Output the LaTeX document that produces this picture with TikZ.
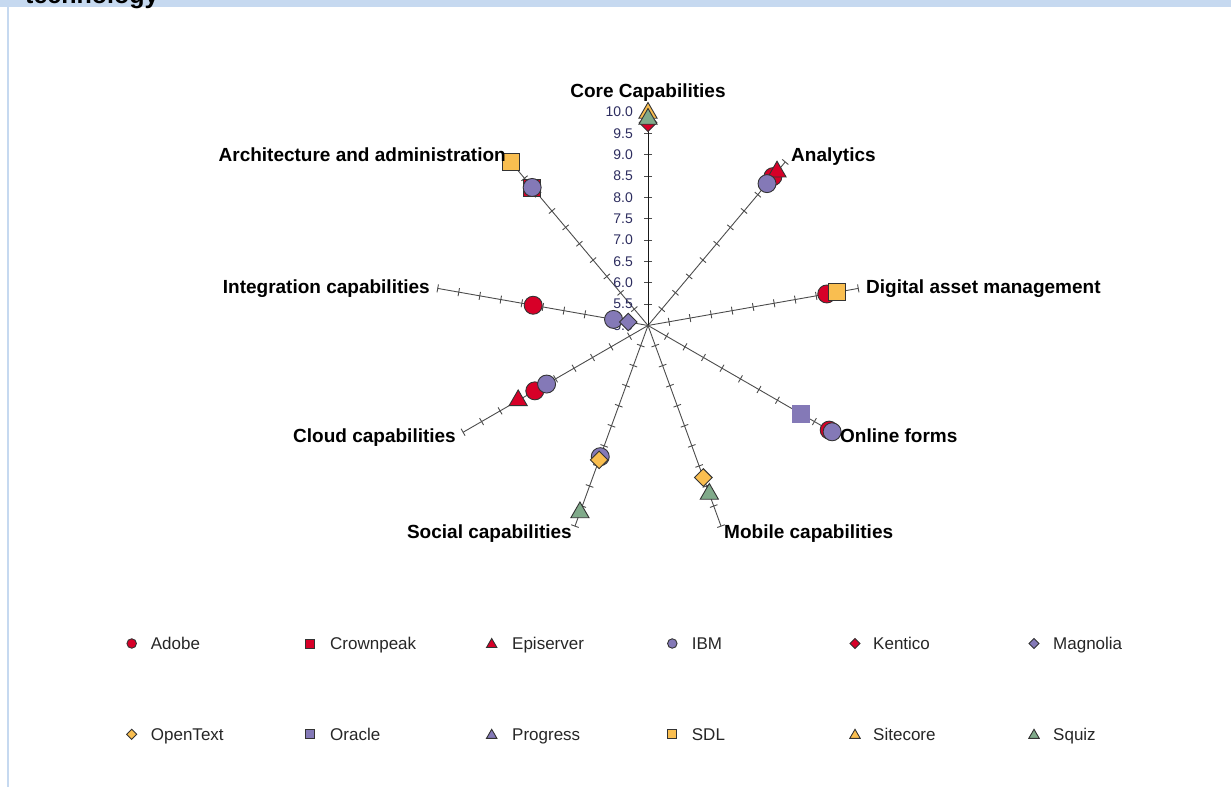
\documentclass[tikz,border=0pt]{standalone}
\usepackage{fontspec}
\setmainfont{Liberation Sans}
\usetikzlibrary{shapes.geometric}

\definecolor{adred}{RGB}{215,0,40}
\definecolor{ibmpur}{RGB}{132,121,183}
\definecolor{sdlorg}{RGB}{249,190,80}
\definecolor{sqzgrn}{RGB}{128,170,138}
\definecolor{bandblue}{RGB}{198,217,240}
\definecolor{ticktxt}{RGB}{45,45,95}

\tikzset{
  axisline/.style={draw=black!70, line width=0.9pt},
  mk/.style={draw=black!80, line width=0.9pt, inner sep=0pt},
  circ/.style={mk, circle, minimum size=18pt},
  sqr/.style={mk, rectangle, minimum size=17pt},
  tri/.style={mk, regular polygon, regular polygon sides=3, minimum size=21pt},
  dia/.style={mk, diamond, minimum size=18pt},
  axlabel/.style={font=\fontsize{19}{22}\selectfont\bfseries, inner sep=0pt},
  ticklbl/.style={font=\fontsize{14}{16}\selectfont, text=ticktxt, anchor=east, inner sep=0pt},
  legtxt/.style={font=\fontsize{17}{20}\selectfont, text=black!85, anchor=base west, inner sep=0pt}
}

\begin{document}
\begin{tikzpicture}[x=1pt, y=1pt]
\useasboundingbox (0,0) rectangle (1231,787);

% frame
\fill[bandblue] (0,780) rectangle (1231,787);
\fill[bandblue] (7,0) rectangle (9,787);
\node[anchor=base west, inner sep=0pt, font=\fontsize{25}{30}\selectfont\bfseries] (ttl) at (25,783) {technology};

\begin{scope}[shift={(648,461.5)}]
\coordinate (O) at (0,0);
% spokes with ticks every 0.5
\foreach \a/\n in {90/core,50/anly,10/dam,-30/form,-70/mob,-110/soc,-150/cld,170/intg,130/arch} {
  \coordinate (e\n) at (\a:213.5);
  \draw[axisline] (O) -- (e\n);
  \foreach \k in {1,...,10}
    \draw[axisline, rotate=\a] (\k*21.35,-4) -- (\k*21.35,4);
}
\draw[axisline, draw=black!90] (O) -- (ecore);

\node[ticklbl] (t50) at (-15,0) {5.0};
\node[ticklbl] (t55) at (-15,21.35) {5.5};
\node[ticklbl] (t60) at (-15,42.7) {6.0};
\node[ticklbl] (t65) at (-15,64.05) {6.5};
\node[ticklbl] (t70) at (-15,85.4) {7.0};
\node[ticklbl] (t75) at (-15,106.75) {7.5};
\node[ticklbl] (t80) at (-15,128.1) {8.0};
\node[ticklbl] (t85) at (-15,149.45) {8.5};
\node[ticklbl] (t90) at (-15,170.8) {9.0};
\node[ticklbl] (t95) at (-15,192.15) {9.5};
\node[ticklbl] (t100) at (-15,213.5) {10.0};

% Adobe
\node[circ, fill=adred] (adobeAn) at (50:194.3) {};
\node[circ, fill=adred] (adobeDam) at (10:181.5) {};
\node[circ, fill=adred] (adobeForm) at (-30:209.2) {};
\node[circ, fill=adred] (adobeCld) at (-150:130.7) {};
\node[circ, fill=adred] (adobeIntg) at (170:116.6) {};
% Crownpeak
\node[sqr, fill=adred] (crownArch) at (130:180.2) {};
% Episerver
\node[tri, fill=adred] (epiAn) at (50:200.7) {};
\node[tri, fill=adred] (epiCld) at (-150:149.9) {};
% IBM
\node[circ, fill=ibmpur] (ibmAn) at (50:185.2) {};
\node[circ, fill=ibmpur] (ibmForm) at (-30:212.6) {};
\node[circ, fill=ibmpur] (ibmSoc) at (-110:139.6) {};
\node[circ, fill=ibmpur] (ibmCld) at (-150:117.1) {};
\node[circ, fill=ibmpur] (ibmIntg) at (170:35) {};
\node[circ, fill=ibmpur] (ibmArch) at (130:180.2) {};
% Kentico
\node[dia, fill=adred] (kentCore) at (90:202.8) {};
% Magnolia
\node[dia, fill=ibmpur] (magIntg) at (170:20.1) {};
% OpenText
\node[dia, fill=sdlorg] (otMob) at (-70:161.8) {};
\node[dia, fill=sdlorg] (otSoc) at (-110:143) {};
% Oracle
\node[sqr, fill=ibmpur, draw=ibmpur] (oraForm) at (-30:176.8) {};
% SDL
\node[sqr, fill=sdlorg] (sdlDam) at (10:191.7) {};
\node[sqr, fill=sdlorg] (sdlArch) at (130:213.5) {};
% Sitecore
\node[tri, fill=sdlorg] (siteCore) at (90:212.5) {};
% Squiz
\node[tri, fill=sqzgrn] (sqzCore) at (90:206.5) {};
\node[tri, fill=sqzgrn] (sqzMob) at (-70:179.3) {};
\node[tri, fill=sqzgrn] (sqzSoc) at (-110:199) {};
\end{scope}

% spoke labels
\node[axlabel, anchor=base] (lcore) at (648,689.2) {Core Capabilities};
\node[axlabel, anchor=base west] (lanly) at (791,625.2) {Analytics};
\node[axlabel, anchor=base west] (ldam) at (866,493.5) {Digital asset management};
\node[axlabel, anchor=base west] (lform) at (840,344.5) {Online forms};
\node[axlabel, anchor=base west] (lmob) at (724,248.5) {Mobile capabilities};
\node[axlabel, anchor=base east] (lsoc) at (572,248.2) {Social capabilities};
\node[axlabel, anchor=base east] (lcld) at (456,344.2) {Cloud capabilities};
\node[axlabel, anchor=base east] (lintg) at (430,493.5) {Integration capabilities};
\node[axlabel, anchor=base east] (larch) at (506,625.2) {Architecture and administration};

% legend
\node[circ, fill=adred, minimum size=9.5pt] (kAdobe) at (131.7,143.5) {};
\node[legtxt] (nAdobe) at (150.7,137.4) {Adobe};
\node[sqr, fill=adred, minimum size=9pt] (kCrown) at (310,143.5) {};
\node[legtxt] (nCrown) at (330,137.4) {Crownpeak};
\node[tri, fill=adred, minimum size=12pt] (kEpi) at (491.7,142.5) {};
\node[legtxt] (nEpi) at (512,137.4) {Episerver};
\node[circ, fill=ibmpur, minimum size=9.5pt] (kIbm) at (672.3,143.5) {};
\node[legtxt] (nIbm) at (691.7,137.4) {IBM};
\node[dia, fill=adred, minimum size=10.5pt] (kKent) at (855,143.5) {};
\node[legtxt] (nKent) at (873,137.4) {Kentico};
\node[dia, fill=ibmpur, minimum size=10.5pt] (kMag) at (1034,143.5) {};
\node[legtxt] (nMag) at (1053,137.4) {Magnolia};

\node[dia, fill=sdlorg, minimum size=10.5pt] (kOt) at (131.7,52.7) {};
\node[legtxt] (nOt) at (150.7,46.6) {OpenText};
\node[sqr, fill=ibmpur, minimum size=9pt] (kOra) at (310,52.7) {};
\node[legtxt] (nOra) at (330,46.6) {Oracle};
\node[tri, fill=ibmpur, minimum size=12pt] (kProg) at (491.7,51.7) {};
\node[legtxt] (nProg) at (512,46.6) {Progress};
\node[sqr, fill=sdlorg, minimum size=9pt] (kSdl) at (672.3,52.7) {};
\node[legtxt] (nSdl) at (691.7,46.6) {SDL};
\node[tri, fill=sdlorg, minimum size=12pt] (kSite) at (855,51.7) {};
\node[legtxt] (nSite) at (873,46.6) {Sitecore};
\node[tri, fill=sqzgrn, minimum size=12pt] (kSqz) at (1034,51.7) {};
\node[legtxt] (nSqz) at (1053,46.6) {Squiz};
\end{tikzpicture}
\end{document}
